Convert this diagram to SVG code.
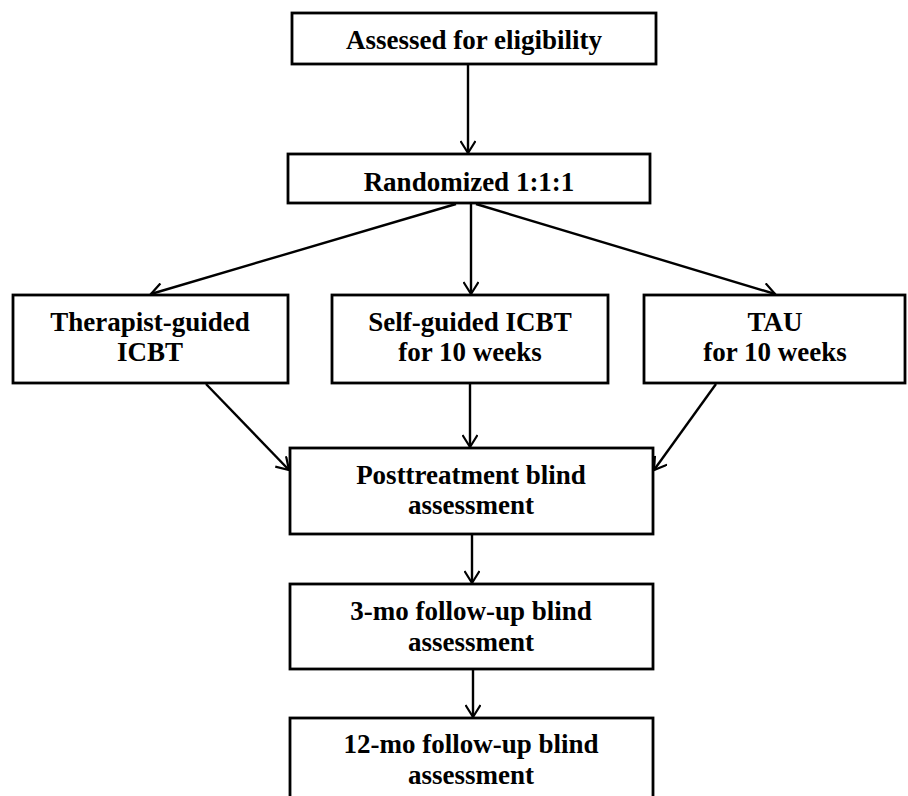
<svg xmlns="http://www.w3.org/2000/svg" width="908" height="796" viewBox="0 0 908 796">
<defs>
<marker id="ah" markerWidth="16" markerHeight="16" refX="13" refY="8" orient="auto" markerUnits="userSpaceOnUse">
<path d="M1,0.5 L13,8 L1,15.5" fill="none" stroke="#000" stroke-width="2.2"/>
</marker>
<style>
rect{fill:#fff;stroke:#000;stroke-width:2.8}
text{font-family:"Liberation Serif","Times New Roman",serif;font-weight:bold;font-size:27px;text-anchor:middle;fill:#000}
.c line{stroke:#000;stroke-width:2.4;marker-end:url(#ah)}
</style>
</defs>
<rect width="908" height="796" style="fill:#fff;stroke:none"/>
<g class="c" id="connectors">
<line x1="468" y1="64" x2="468" y2="153"/>
<line x1="456" y1="204" x2="151" y2="294"/>
<line x1="471" y1="204" x2="471" y2="294"/>
<line x1="476" y1="204" x2="775" y2="294"/>
<line x1="206" y1="384" x2="289" y2="470"/>
<line x1="470" y1="384" x2="470" y2="447"/>
<line x1="716" y1="384" x2="654" y2="470"/>
<line x1="472" y1="535" x2="472" y2="583"/>
<line x1="473" y1="670" x2="473" y2="717"/>
</g>
<g id="n1"><rect x="292" y="13" width="364" height="51"/><text x="474" y="49">Assessed for eligibility</text></g>
<g id="n2"><rect x="288" y="154" width="362" height="49"/><text x="469" y="191">Randomized 1:1:1</text></g>
<g id="n3"><rect x="13" y="295" width="275" height="88"/><text x="150" y="331">Therapist-guided</text><text x="150" y="361">ICBT</text></g>
<g id="n4"><rect x="332" y="295" width="276" height="88"/><text x="470" y="331">Self-guided ICBT</text><text x="470" y="361">for 10 weeks</text></g>
<g id="n5"><rect x="644" y="295" width="261" height="88"/><text x="775" y="331">TAU</text><text x="775" y="361">for 10 weeks</text></g>
<g id="n6"><rect x="290" y="448" width="363" height="86"/><text x="471" y="484">Posttreatment blind</text><text x="471" y="514">assessment</text></g>
<g id="n7"><rect x="290" y="584" width="363" height="85"/><text x="471" y="620">3-mo follow-up blind</text><text x="471" y="651">assessment</text></g>
<g id="n8"><rect x="290" y="718" width="363" height="90"/><text x="471" y="753">12-mo follow-up blind</text><text x="471" y="784">assessment</text></g>
</svg>
